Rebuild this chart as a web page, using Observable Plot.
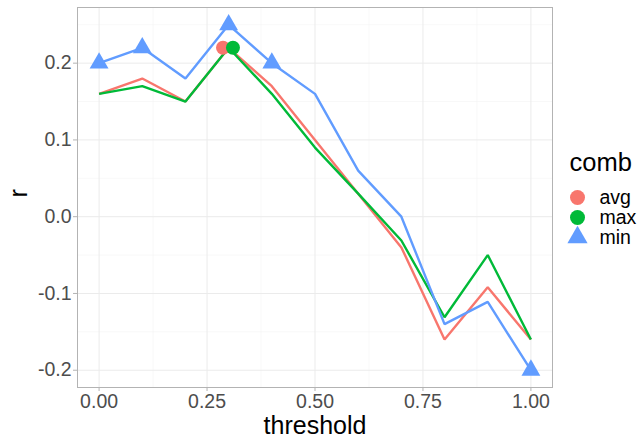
<!DOCTYPE html>
<html>
<head>
<meta charset="utf-8">
<script src="https://cdn.jsdelivr.net/npm/d3@7"></script>
<script src="https://cdn.jsdelivr.net/npm/@observablehq/plot@0.6"></script>
<style>
  html, body { margin: 0; padding: 0; background: #fff; }
  #chart { width: 638px; height: 439px; }
</style>
</head>
<body>
<div id="chart"></div>
<script>
// ---- data ----
const threshold = [0, 0.1, 0.2, 0.3, 0.4, 0.5, 0.6, 0.7, 0.8, 0.9, 1.0];
const avgValues = [0.16, 0.18, 0.15, 0.22, 0.17, 0.10, 0.03, -0.04, -0.16, -0.092, -0.16];
const maxValues = [0.16, 0.17, 0.15, 0.22, 0.16, 0.09, 0.03, -0.031, -0.131, -0.05, -0.16];
const minValues = [0.20, 0.22, 0.18, 0.25, 0.20, 0.16, 0.06, 0.00, -0.14, -0.111, -0.20];

const avgPointX = [0.287];
const avgPointY = [0.22];
const maxPointX = [0.31];
const maxPointY = [0.22];
const minPointX = [0, 0.1, 0.3, 0.4, 1.0];
const minPointY = [0.20, 0.22, 0.25, 0.20, -0.20];

const combNames = ["avg", "max", "min"];
const combColors = ["#F8766D", "#00BA38", "#619CFF"];
const combSymbols = ["circle", "circle", "triangle"];

const xTicks = [0, 0.25, 0.5, 0.75, 1.0];
const xMinor = [0.125, 0.375, 0.625, 0.875];
const yTicks = [-0.2, -0.1, 0.0, 0.1, 0.2];
const yMinor = [-0.15, -0.05, 0.05, 0.15, 0.25];

// ---- build tables ----
const seriesValues = {avg: avgValues, max: maxValues, min: minValues};
const lineRows = combNames.flatMap(c => threshold.map((t, i) => ({comb: c, threshold: t, r: seriesValues[c][i]})));
const pointRows = [
  ...avgPointX.map((x, i) => ({comb: "avg", threshold: x, r: avgPointY[i]})),
  ...maxPointX.map((x, i) => ({comb: "max", threshold: x, r: maxPointY[i]})),
  ...minPointX.map((x, i) => ({comb: "min", threshold: x, r: minPointY[i]}))
];

const FONT = "'Liberation Sans', Arial, Helvetica, sans-serif";
const textGrey = "#4d4d4d";
const lineGrey = "#b3b3b3";

const legendMarks = [
  Plot.text(["comb"], {frameAnchor: "top-right", dx: 17, dy: 155, textAnchor: "start", lineAnchor: "middle", fontSize: 25.5, fill: "#000"})
];
combNames.forEach((c, i) => {
  legendMarks.push(Plot.dot([c], {frameAnchor: "top-right", dx: 25, dy: 190 + i * 20, fill: d => d, symbol: d => d, r: 7.5}));
  legendMarks.push(Plot.text([c], {frameAnchor: "top-right", dx: 47, dy: 190 + i * 20, textAnchor: "start", lineAnchor: "middle", fontSize: 19.5, fill: "#000"}));
});

const chart = Plot.plot({
  width: 638,
  height: 439,
  marginLeft: 77,
  marginRight: 86,
  marginTop: 7,
  marginBottom: 52,
  style: {fontFamily: FONT, background: "#fff"},
  x: {domain: [-0.05, 1.05]},
  y: {domain: [-0.2225, 0.2725]},
  color: {domain: combNames, range: combColors},
  symbol: {domain: combNames, range: combSymbols},
  marks: [
    Plot.ruleX(xMinor, {stroke: "#f3f3f3", strokeWidth: 0.6}),
    Plot.ruleY(yMinor, {stroke: "#f3f3f3", strokeWidth: 0.6}),
    Plot.ruleX(xTicks, {stroke: "#ebebeb", strokeWidth: 1}),
    Plot.ruleY(yTicks, {stroke: "#ebebeb", strokeWidth: 1}),
    Plot.line(lineRows, {x: "threshold", y: "r", z: "comb", stroke: "comb", strokeWidth: 2.4, strokeLinejoin: "miter", strokeLinecap: "butt"}),
    Plot.dot(pointRows, {x: "threshold", y: "r", fill: "comb", symbol: "comb", r: 7}),
    Plot.frame({stroke: lineGrey, strokeWidth: 1}),
    Plot.axisX({ticks: xTicks, tickFormat: d => d.toFixed(2), tickSize: 4, tickPadding: 3, fontSize: 19.5, fill: textGrey, stroke: lineGrey, label: null}),
    Plot.axisY({ticks: yTicks, tickFormat: d => d.toFixed(1), tickSize: 4, tickPadding: 2, fontSize: 19.5, fill: textGrey, stroke: lineGrey, label: null}),
    Plot.text(["threshold"], {frameAnchor: "bottom", dy: 38, lineAnchor: "middle", fontSize: 25, fill: "#000"}),
    Plot.text(["r"], {frameAnchor: "left", dx: -59, rotate: -90, lineAnchor: "middle", fontSize: 25.5, fill: "#000"}),
    ...legendMarks
  ]
});
document.getElementById("chart").appendChild(chart);
</script>
</body>
</html>
